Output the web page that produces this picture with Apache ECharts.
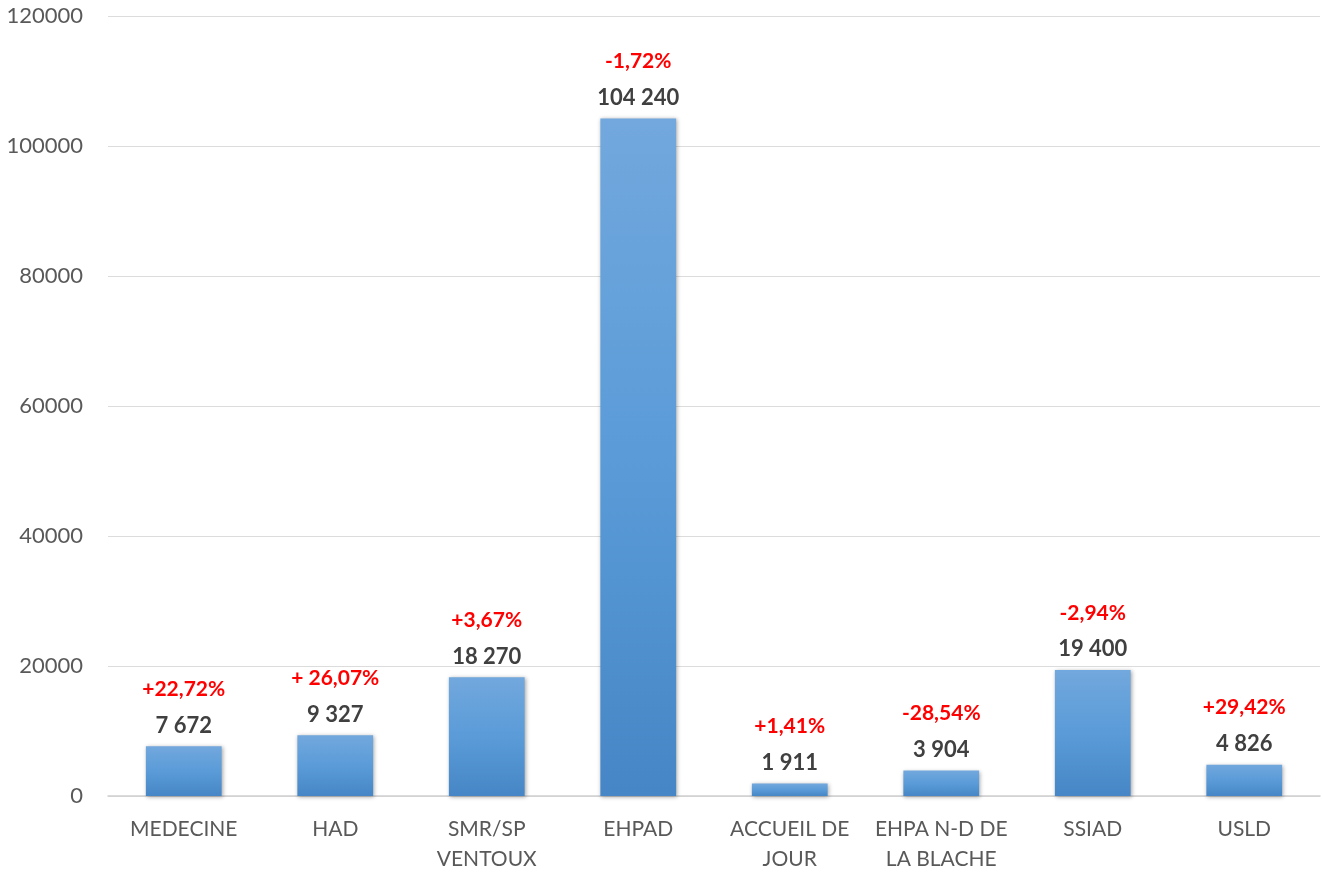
<!DOCTYPE html>
<html>
<head>
<meta charset="utf-8">
<script src="https://cdn.jsdelivr.net/npm/echarts@6/dist/echarts.min.js"></script>
<style>
  html, body { margin: 0; padding: 0; background: #ffffff; }
  #chart { width: 1322px; height: 874px; }
</style>
</head>
<body>
<div id="chart"></div>
<script>
// Activity by service
const categories = ['MEDECINE', 'HAD', 'SMR/SP\nVENTOUX', 'EHPAD', 'ACCUEIL DE\nJOUR', 'EHPA N-D DE\nLA BLACHE', 'SSIAD', 'USLD'];
const values = [7672, 9327, 18270, 104240, 1911, 3904, 19400, 4826];
const changes = ['+22,72%', '+ 26,07%', '+3,67%', '-1,72%', '+1,41%', '-28,54%', '-2,94%', '+29,42%'];
const yTicks = { min: 0, max: 120000, interval: 20000 };

const FONT = 'Lato, "Open Sans", sans-serif';

function spaced(n) {
  return String(n).replace(/\B(?=(\d{3})+(?!\d))/g, ' ');
}

const barGradient = new echarts.graphic.LinearGradient(0, 0, 0, 1, [
  { offset: 0, color: '#72a8dd' },
  { offset: 0.5, color: '#5a9bd8' },
  { offset: 1, color: '#4686c6' }
]);

const chart = echarts.init(document.getElementById('chart'), null, { renderer: 'canvas' });
chart.setOption({
  animation: false,
  backgroundColor: '#ffffff',
  grid: { left: 108, right: 2, top: 16, bottom: 76, containLabel: false },
  xAxis: {
    type: 'category',
    data: categories,
    axisLine: { show: true, lineStyle: { color: '#d0d0d0', width: 1.5 } },
    axisTick: { show: false },
    axisLabel: {
      interval: 0,
      margin: 18,
      color: '#595959',
      fontFamily: FONT,
      fontSize: 21,
      lineHeight: 30
    }
  },
  yAxis: {
    type: 'value',
    min: yTicks.min,
    max: yTicks.max,
    interval: yTicks.interval,
    axisLine: { show: false },
    axisTick: { show: false },
    splitLine: { lineStyle: { color: '#dcdcdc', width: 1 } },
    axisLabel: {
      margin: 25,
      color: '#595959',
      fontFamily: FONT,
      fontSize: 22,
      formatter: v => String(v)
    }
  },
  series: [{
    type: 'bar',
    data: values,
    barWidth: '50%',
    itemStyle: {
      color: barGradient,
      shadowColor: 'rgba(0,0,0,0.35)',
      shadowBlur: 4,
      shadowOffsetX: 1,
      shadowOffsetY: 1
    },
    label: {
      show: true,
      position: 'top',
      distance: 2,
      formatter: p => '{p|' + changes[p.dataIndex] + '}\n{v|' + spaced(p.value) + '}',
      rich: {
        p: { color: '#ff0000', fontFamily: FONT, fontWeight: 'bold', fontSize: 21, lineHeight: 36, align: 'center' },
        v: { color: '#404040', fontFamily: FONT, fontWeight: 'bold', fontSize: 22, lineHeight: 37, align: 'center' }
      }
    }
  }]
});
</script>
</body>
</html>
